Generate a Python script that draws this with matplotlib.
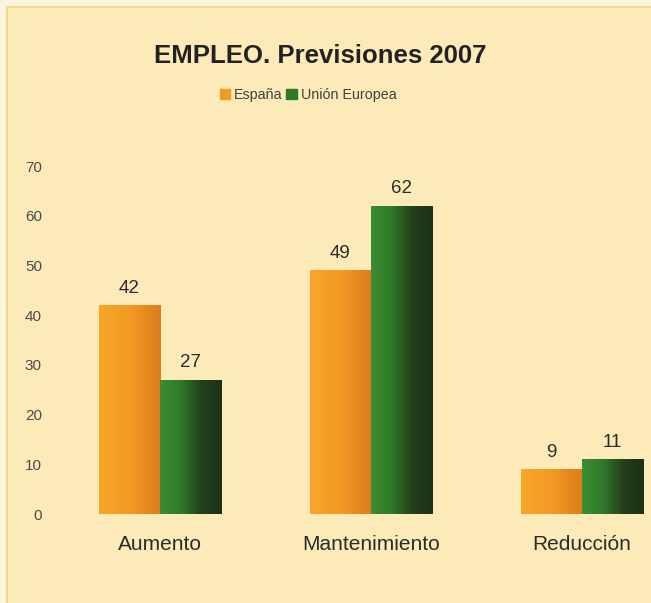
import numpy as np
import matplotlib
matplotlib.use("Agg")
import matplotlib.pyplot as plt
from matplotlib.patches import Rectangle
from matplotlib.colors import LinearSegmentedColormap

categories = ["Aumento", "Mantenimiento", "Reducción"]
espana = [42, 49, 9]
ue = [27, 62, 11]
series_names = ["España", "Unión Europea"]
yticks = [0, 10, 20, 30, 40, 50, 60, 70]
title = "EMPLEO. Previsiones 2007"

plt.rcParams['font.family'] = ['Liberation Sans', 'DejaVu Sans']

W, H = 651, 603
fig = plt.figure(figsize=(W / 100, H / 100), dpi=100)
fig.patch.set_facecolor('#fbf4de')
fig.patches.append(Rectangle((7 / W, -0.01), 1.0, 1 - 7 / H + 0.01, transform=fig.transFigure,
                             facecolor='#fcebb9', edgecolor='#efd37e', linewidth=1.2, zorder=-10))

ax = fig.add_axes([60 / W, (H - 514) / H, (W - 60) / W, (514 - 166) / H])
ax.set_facecolor('none')
for s in ax.spines.values():
    s.set_visible(False)

x = np.arange(len(categories))
w = 0.29

cm_or = LinearSegmentedColormap.from_list('or', ['#f9a52a', '#f29a24', '#dc7b1c'])
cm_gr = LinearSegmentedColormap.from_list('gr', ['#3c8d33', '#2f7a28', '#22401b', '#1d3017'])

b1 = ax.bar(x - w / 2, espana, w, facecolor='none', edgecolor='none')
b2 = ax.bar(x + w / 2, ue, w, facecolor='none', edgecolor='none')
grad = np.linspace(0, 1, 256).reshape(1, -1)
for bars, cmap in ((b1, cm_or), (b2, cm_gr)):
    for r in bars:
        x0, y0 = r.get_x(), r.get_y()
        im = ax.imshow(grad, cmap=cmap, aspect='auto',
                       extent=(x0, x0 + r.get_width(), y0, y0 + r.get_height()), zorder=2)
        im.set_clip_path(r)
    for r in bars:
        ax.annotate(f"{int(r.get_height())}", (r.get_x() + r.get_width() / 2, r.get_height()),
                    xytext=(0, 6), textcoords='offset points', ha='center', va='bottom',
                    fontsize=13.5, color='#2b2b2b')

ax.set_xlim((60 - 160) / 211, (W - 160) / 211)
ax.set_ylim(0, 70)
ax.set_yticks(yticks)
ax.set_yticklabels([str(v) for v in yticks], fontsize=11, color='#4a4a4a')
ax.set_xticks(x)
ax.set_xticklabels(categories, fontsize=15, color='#2b2b2b')
ax.tick_params(axis='y', length=0, pad=13)
ax.tick_params(axis='x', length=0, pad=15)

fig.text(320 / W, 1 - 56 / H, title, ha='center', va='center', fontsize=18.5,
         fontweight='bold', color='#222222')

leg = fig.legend([Rectangle((0, 0), 1, 1, color='#f39a22'), Rectangle((0, 0), 1, 1, color='#2f7a28')],
                 series_names, loc='center', bbox_to_anchor=(308 / W, 1 - 95 / H), ncol=2,
                 frameon=False, fontsize=10.3, handlelength=0.75, handleheight=0.75,
                 handletextpad=0.25, columnspacing=0.25)
for t in leg.get_texts():
    t.set_color('#404040')

fig.savefig('out.png', dpi=100, facecolor=fig.get_facecolor())
